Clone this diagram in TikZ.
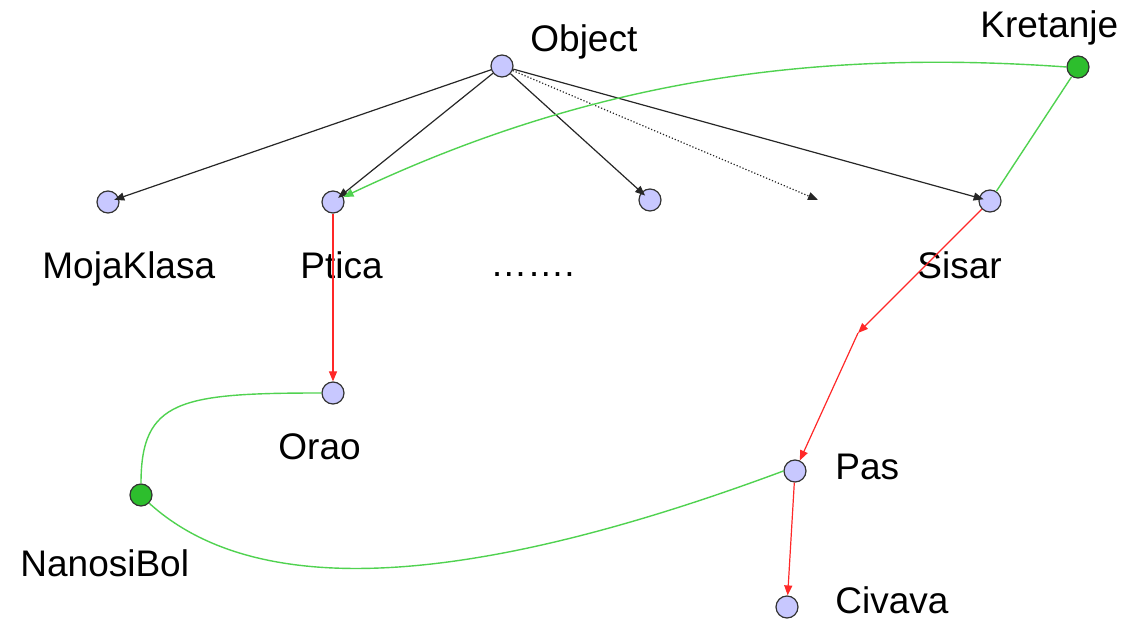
\documentclass[tikz,border=0pt]{standalone}
\usepackage{fontspec}
\setmainfont{Liberation Sans}
\usetikzlibrary{arrows.meta}
\definecolor{nodeblue}{RGB}{200,200,255}
\definecolor{nodegreen}{RGB}{45,190,45}
\definecolor{linkgreen}{RGB}{80,210,80}
\definecolor{linkred}{RGB}{255,40,40}
\tikzset{
  cls/.style={circle,draw=black!80,line width=0.6pt,fill=nodeblue,minimum size=11pt,inner sep=0pt},
  iface/.style={circle,draw=black!80,line width=0.6pt,fill=nodegreen,minimum size=11pt,inner sep=0pt},
  lbl/.style={anchor=base west,inner sep=0pt,font=\fontsize{18.5}{20}\selectfont},
  inherit/.style={draw=black!85,line width=0.6pt,-{Triangle[length=5pt,width=4pt]},shorten >=-2.5pt},
  derive/.style={draw=linkred,line width=0.6pt,-{Triangle[length=5pt,width=4pt]}},
  impl/.style={draw=linkgreen,line width=0.7pt},
}
\begin{document}
\begin{tikzpicture}[x=0.5pt,y=-0.5pt]
\useasboundingbox (0,0) rectangle (1125,620);

% class nodes
\node[cls] (obj) at (502,66) {};
\node[cls] (moja) at (108,202) {};
\node[cls] (ptica) at (333,202) {};
\node[cls] (anon) at (650,200) {};
\node[cls] (sisar) at (990,201) {};
\node[cls] (orao) at (333,393) {};
\node[cls] (pas) at (795,471) {};
\node[cls] (civava) at (787,607) {};
% interface nodes
\node[iface] (kret) at (1078,67) {};
\node[iface] (bol) at (141,495) {};
\coordinate (more) at (818,200);
\coordinate (bend) at (858,333);

% labels
\node[lbl] (tobj) at (530,52) {Object};
\node[lbl] (tkret) at (980,38) {Kretanje};
\node[lbl] (tmoja) at (42,279) {MojaKlasa};
\node[lbl] (tptica) at (300,279) {Ptica};
\node[lbl] (tdots) at (490,277) {…….};
\node[lbl] (tsisar) at (917,279) {Sisar};
\node[lbl] (torao) at (278,459) {Orao};
\node[lbl] (tbol) at (20,576) {NanosiBol};
\node[lbl] (tpas) at (835,480) {Pas};
\node[lbl] (tciv) at (835,613) {Civava};

% inheritance from Object
\draw[inherit] (obj) -- (moja);
\draw[inherit] (obj) -- (ptica);
\draw[inherit] (obj) -- (anon);
\draw[inherit] (obj) -- (sisar);
\draw[inherit,densely dotted,shorten >=0pt] (obj) -- (more);

% derived classes
\draw[derive] (ptica) -- (orao);
\draw[derive] (sisar) -- (bend);
\draw[derive] (bend) -- (pas);
\draw[derive] (pas) -- (civava);

% interface links
\draw[impl,-{Triangle[length=5pt,width=4pt]}] (kret.west) .. controls (800,48) and (580,85) .. (ptica);
\draw[impl] (kret) -- (sisar);
\draw[impl] (orao.west) .. controls (180,393) and (141,400) .. (bol.north);
\draw[impl] (bol.south east) .. controls (250,595) and (450,595) .. (pas.west);
\end{tikzpicture}
\end{document}
